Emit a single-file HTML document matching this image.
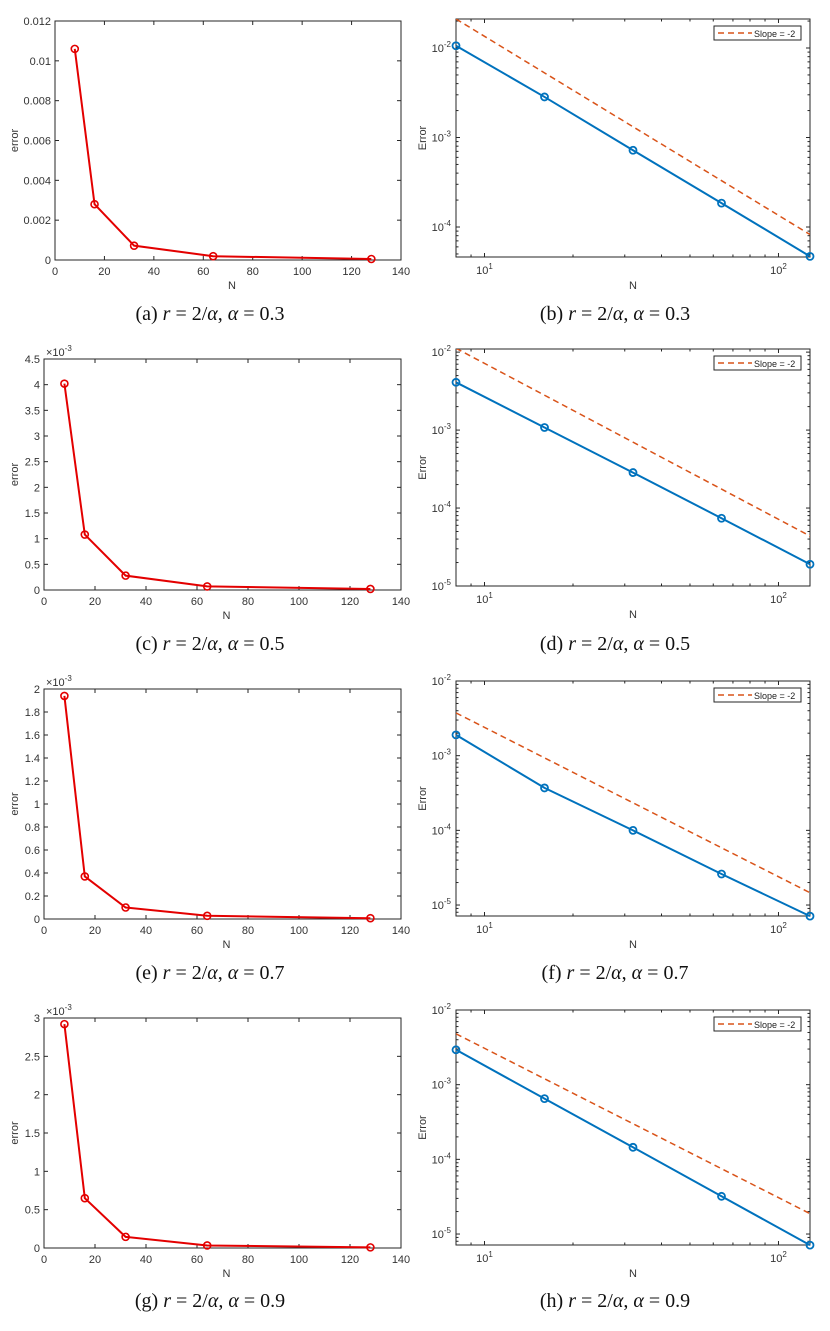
<!DOCTYPE html>
<html><head><meta charset="utf-8">
<style>
html,body{margin:0;padding:0;background:#fff;}
svg{display:block;}
text{font-family:"Liberation Sans",sans-serif;}
.cap{font-family:"Liberation Serif",serif;font-size:20px;fill:#111;}
</style></head>
<body>
<svg id="fig" width="830" height="1331" viewBox="0 0 830 1331" xmlns="http://www.w3.org/2000/svg"></svg>
<script>
// ---- shared data ----
const nValues = [8, 16, 32, 64, 128];
const linXTicks = [0, 20, 40, 60, 80, 100, 120, 140];
// panel a
const errA = [0.0106, 0.0028, 0.00072, 0.00019, 0.00005];
const ticksA = [0, 0.002, 0.004, 0.006, 0.008, 0.01, 0.012];
const tickLabelsA = ['0', '0.002', '0.004', '0.006', '0.008', '0.01', '0.012'];
// panel b
const errB = [0.0106, 0.00284, 0.00072, 0.000185, 0.000047];
const slopeB = [0.0211, 0.0211/256];
// panel c (x1e-3)
const errC = [4.02, 1.08, 0.28, 0.07, 0.02];
const ticksC = [0, 0.5, 1, 1.5, 2, 2.5, 3, 3.5, 4, 4.5];
// panel d
const errD = [0.0041, 0.00108, 0.000285, 0.000074, 0.000019];
const slopeD = [0.0112, 0.0112/256];
// panel e (x1e-3)
const errE = [1.94, 0.37, 0.10, 0.028, 0.007];
const ticksE = [0, 0.2, 0.4, 0.6, 0.8, 1, 1.2, 1.4, 1.6, 1.8, 2];
// panel f
const errF = [0.0019, 0.00037, 0.0001, 0.000026, 0.0000071];
const slopeF = [0.00374, 0.00374/256];
// panel g (x1e-3)
const errG = [2.92, 0.65, 0.145, 0.033, 0.008];
const ticksG = [0, 0.5, 1, 1.5, 2, 2.5, 3];
// panel h
const errH = [0.00293, 0.00065, 0.000145, 0.000032, 0.0000071];
const slopeH = [0.0048, 0.0048/256];

const NS = 'http://www.w3.org/2000/svg';
const svg = document.getElementById('fig');
function el(tag, attrs, parent, txt) {
  const e = document.createElementNS(NS, tag);
  for (const k in attrs) e.setAttribute(k, attrs[k]);
  if (txt !== undefined) e.textContent = txt;
  (parent || svg).appendChild(e);
  return e;
}
const AX = '#262626', TXT = '#333';

function caption(g, id, letter, alpha, cx, capY) {
  const cp = el('text', {x: cx, y: capY, class: 'cap', 'text-anchor': 'middle'}, g);
  
  
  el('tspan', {}, cp, '(' + letter + ')  ');
  el('tspan', {'font-style': 'italic'}, cp, 'r');
  el('tspan', {}, cp, ' = 2/');
  el('tspan', {'font-style': 'italic'}, cp, '\u03b1');
  el('tspan', {}, cp, ', ');
  el('tspan', {'font-style': 'italic'}, cp, '\u03b1');
  el('tspan', {}, cp, ' = ' + alpha);
}

function linPanel(id, box, vals, yTicks, yLabels, yMax, exp, alpha, capY) {
  const g = el('g', {});
  
  
  const {l, r, t, b} = box;
  const xs = v => l + (v / 140) * (r - l);
  const ys = v => b - (v / yMax) * (b - t);
  const fr = el('rect', {x: l, y: t, width: r - l, height: b - t, fill: '#fff', stroke: AX, 'stroke-width': 1}, g);
  
  
  linXTicks.forEach(v => {
    const x = xs(v);
    el('line', {x1: x, x2: x, y1: b, y2: b - 4, stroke: AX}, g);
    el('line', {x1: x, x2: x, y1: t, y2: t + 4, stroke: AX}, g);
    const tl = el('text', {x: x, y: b + 15, 'font-size': 11, fill: TXT, 'text-anchor': 'middle'}, g, String(v));
    
    
  });
  yTicks.forEach((v, i) => {
    const y = ys(v);
    el('line', {x1: l, x2: l + 4, y1: y, y2: y, stroke: AX}, g);
    el('line', {x1: r, x2: r - 4, y1: y, y2: y, stroke: AX}, g);
    const tl = el('text', {x: l - 4, y: y + 4, 'font-size': 11, fill: TXT, 'text-anchor': 'end'}, g, yLabels ? yLabels[i] : String(v));
    
    
  });
  if (exp) {
    const et = el('text', {x: l + 2, y: t - 3, 'font-size': 11, fill: TXT}, g);
    
    
    el('tspan', {}, et, '\u00d710');
    el('tspan', {dy: -5, 'font-size': 8}, et, '-3');
  }
  const xl = el('text', {x: (l + r) / 2 + 4, y: b + 29, 'font-size': 11, fill: TXT, 'text-anchor': 'middle'}, g, 'N');
  
  
  const yl = el('text', {x: 0, y: 0, 'font-size': 11, fill: TXT, 'text-anchor': 'middle', transform: `translate(18,${(t + b) / 2}) rotate(-90)`}, g, 'error');
  
  
  const pts = nValues.map((n, i) => xs(n) + ',' + ys(vals[i])).join(' ');
  const ln = el('polyline', {points: pts, fill: 'none', stroke: '#e30000', 'stroke-width': 2}, g);
  
  
  nValues.forEach((n, i) => {
    const c = el('circle', {cx: xs(n), cy: ys(vals[i]), r: 3.5, fill: 'none', stroke: '#e30000', 'stroke-width': 1.6}, g);
    
    
  });
  caption(g, id, id, alpha, 210, capY);
}

function logPanel(id, box, vals, slope, yMinE, yMaxE, alpha, capY) {
  const g = el('g', {});
  
  
  const {l, r, t, b} = box;
  const x0 = Math.log10(8), x1 = Math.log10(128);
  const xs = v => l + (Math.log10(v) - x0) / (x1 - x0) * (r - l);
  const ys = v => b - (Math.log10(v) - yMinE) / (yMaxE - yMinE) * (b - t);
  const fr = el('rect', {x: l, y: t, width: r - l, height: b - t, fill: '#fff', stroke: AX, 'stroke-width': 1}, g);
  
  
  [8, 9, 10, 20, 30, 40, 50, 60, 70, 80, 90, 100].forEach(v => {
    const x = xs(v), major = (v === 10 || v === 100), len = major ? 4 : 2.5;
    el('line', {x1: x, x2: x, y1: b, y2: b - len, stroke: AX}, g);
    el('line', {x1: x, x2: x, y1: t, y2: t + len, stroke: AX}, g);
  });
  [[10, '1'], [100, '2']].forEach(([v, e]) => {
    const tl = el('text', {x: xs(v), y: b + 17, 'font-size': 11, fill: TXT, 'text-anchor': 'middle'}, g);
    
    
    el('tspan', {}, tl, '10');
    el('tspan', {dy: -5, 'font-size': 8}, tl, e);
  });
  for (let e = Math.floor(yMinE); e <= Math.ceil(yMaxE); e++) {
    for (let m = 1; m <= 9; m++) {
      const v = m * Math.pow(10, e), lv = Math.log10(v);
      if (lv < yMinE - 1e-6 || lv > yMaxE + 1e-6) continue;
      const y = ys(v), len = m === 1 ? 4 : 2.5;
      el('line', {x1: l, x2: l + len, y1: y, y2: y, stroke: AX}, g);
      el('line', {x1: r, x2: r - len, y1: y, y2: y, stroke: AX}, g);
      if (m === 1) {
        const tl = el('text', {x: l - 5, y: y + 4, 'font-size': 11, fill: TXT, 'text-anchor': 'end'}, g);
        
        
        el('tspan', {}, tl, '10');
        el('tspan', {dy: -5, 'font-size': 8}, tl, String(e));
      }
    }
  }
  const xl = el('text', {x: (l + r) / 2, y: b + 32, 'font-size': 11, fill: TXT, 'text-anchor': 'middle'}, g, 'N');
  
  
  const yl = el('text', {x: 0, y: 0, 'font-size': 11, fill: TXT, 'text-anchor': 'middle', transform: `translate(426,${(t + b) / 2}) rotate(-90)`}, g, 'Error');
  
  
  const clip = 'clip-' + id;
  const cpth = el('clipPath', {id: clip}, g);
  el('rect', {x: l, y: t, width: r - l, height: b - t}, cpth);
  const sl = el('line', {x1: xs(8), y1: ys(slope[0]), x2: xs(128), y2: ys(slope[1]), stroke: '#D95319', 'stroke-width': 1.5, 'stroke-dasharray': '6,4', 'clip-path': `url(#${clip})`}, g);
  
  
  const pts = nValues.map((n, i) => xs(n) + ',' + ys(vals[i])).join(' ');
  const ln = el('polyline', {points: pts, fill: 'none', stroke: '#0072BD', 'stroke-width': 2}, g);
  
  
  nValues.forEach((n, i) => {
    const c = el('circle', {cx: xs(n), cy: ys(vals[i]), r: 3.5, fill: 'none', stroke: '#0072BD', 'stroke-width': 1.8}, g);
    
    
  });
  const lg = el('g', {}, g);
  
  
  el('rect', {x: 714, y: t + 7, width: 87, height: 14, fill: '#fff', stroke: AX, 'stroke-width': 1}, lg);
  el('line', {x1: 718, x2: 752, y1: t + 14, y2: t + 14, stroke: '#D95319', 'stroke-width': 1.5, 'stroke-dasharray': '6,4'}, lg);
  el('text', {x: 754, y: t + 18, 'font-size': 9, fill: '#222'}, lg, 'Slope = -2');
  caption(g, id, id, alpha, 615, capY);
}

linPanel('a', {l: 55, r: 401, t: 21, b: 260}, errA, ticksA, tickLabelsA, 0.012, false, '0.3', 320);
logPanel('b', {l: 456, r: 810, t: 19, b: 257}, errB, slopeB, -4.335, -1.676, '0.3', 320);
linPanel('c', {l: 44, r: 401, t: 359, b: 590}, errC, ticksC, null, 4.5, true, '0.5', 650);
logPanel('d', {l: 456, r: 810, t: 349, b: 586}, errD, slopeD, -5, -1.96, '0.5', 650);
linPanel('e', {l: 44, r: 401, t: 689, b: 919}, errE, ticksE, null, 2, true, '0.7', 979);
logPanel('f', {l: 456, r: 810, t: 681, b: 916}, errF, slopeF, -5.147, -2, '0.7', 979);
linPanel('g', {l: 44, r: 401, t: 1018, b: 1248}, errG, ticksG, null, 3, true, '0.9', 1307);
logPanel('h', {l: 456, r: 810, t: 1010, b: 1245}, errH, slopeH, -5.147, -2, '0.9', 1307);
</script>
</body></html>
